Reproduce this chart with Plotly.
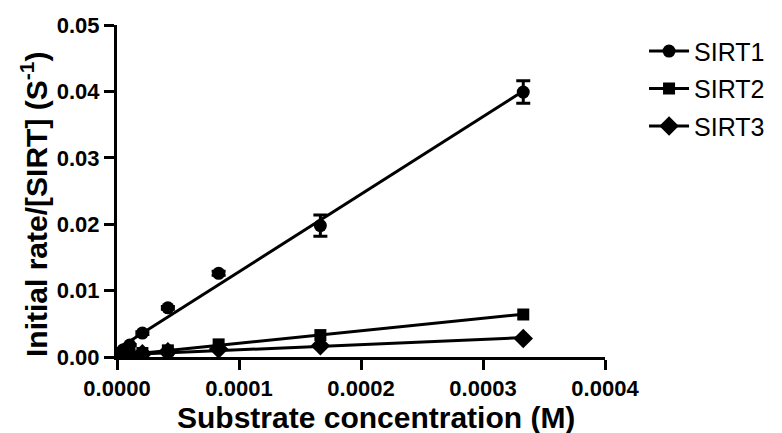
import numpy as np
import plotly.graph_objects as go

conc = [3.33e-4, 1.667e-4, 8.33e-5, 4.17e-5, 2.08e-5, 1.04e-5, 5.2e-6, 2.6e-6]
sirt1 = [0.0399, 0.0198, 0.0126, 0.0074, 0.0036, 0.0018, 0.0011, 0.0006]
sirt1_err = [0.0017, 0.0016, 0.0003, 0.0002, 0.0002, 0.0001, 0.0001, 0.0001]
sirt2 = [0.0064, 0.0033, 0.0019, 0.0010, 0.0006, 0.0004, 0.0002, 0.0001]
sirt3 = [0.0028, 0.0017, 0.0012, 0.0008, 0.0005, 0.0003, 0.0002, 0.0001]
names = ["SIRT1", "SIRT2", "SIRT3"]
symbols = ["circle", "square", "diamond"]
x_ticks = [0, 0.0001, 0.0002, 0.0003, 0.0004]
y_ticks = [0, 0.01, 0.02, 0.03, 0.04, 0.05]
x_title = "Substrate concentration (M)"
y_title = "Initial rate/[SIRT] (S<sup>-1</sup>)"

FONT = "Liberation Sans, Arial"
fig = go.Figure()
series = [sirt1, sirt2, sirt3]
errs = [sirt1_err, None, None]
sizes = [13, 12, 15]
for name, ys, err, sym, sz in zip(names, series, errs, symbols, sizes):
    x = np.array(conc)
    y = np.array(ys)
    m, b = np.polyfit(x, y, 1)
    xl = np.array([0.0, x.max()])
    fig.add_trace(go.Scatter(x=xl, y=m * xl + b, mode="lines",
                             line=dict(color="black", width=3),
                             showlegend=False, hoverinfo="skip"))
    kw = {}
    if err is not None:
        kw["error_y"] = dict(type="data", array=err, visible=True,
                             color="black", thickness=3, width=7)
    fig.add_trace(go.Scatter(x=x, y=y, mode="markers", name=name,
                             marker=dict(symbol=sym, size=sz, color="black"),
                             showlegend=False, **kw))
    fig.add_trace(go.Scatter(x=[None], y=[None], mode="lines+markers", name=name,
                             legendgroup=name,
                             marker=dict(symbol=sym, size=sz, color="black"),
                             line=dict(color="black", width=3)))

tick_font = dict(family=FONT, size=22, color="black", weight="bold")
fig.update_xaxes(range=[0, 0.0004], tickvals=x_ticks, tickformat=".4f",
                 showline=True, linewidth=3, linecolor="black", ticks="outside",
                 ticklen=10, tickwidth=3, tickcolor="black", showgrid=False,
                 zeroline=False, tickfont=tick_font)
fig.update_yaxes(range=[0, 0.05], tickvals=y_ticks, tickformat=".2f",
                 showline=True, linewidth=3, linecolor="black", ticks="outside",
                 ticklen=10, tickwidth=3, tickcolor="black", showgrid=False,
                 zeroline=False, tickfont=tick_font)
fig.add_annotation(text="<b>" + x_title + "</b>", xref="paper", yref="paper",
                   x=0.53, y=-0.181, xanchor="center", yanchor="middle",
                   showarrow=False, font=dict(family=FONT, size=30, color="black"))
fig.add_annotation(text="<b>" + y_title + "</b>", xref="paper", yref="paper",
                   x=-0.17, y=0.458, xanchor="center", yanchor="middle", textangle=-90,
                   showarrow=False, font=dict(family=FONT, size=30, color="black"))
fig.update_layout(
    width=782, height=433,
    margin=dict(l=117, r=165, t=25, b=76),
    plot_bgcolor="white", paper_bgcolor="white",
    font=dict(family=FONT, color="black"),
    legend=dict(x=1.08, y=0.99, xanchor="left", yanchor="top",
                font=dict(family=FONT, size=25, color="black"),
                itemwidth=40, tracegroupgap=2),
)
fig.write_html("out.html")
